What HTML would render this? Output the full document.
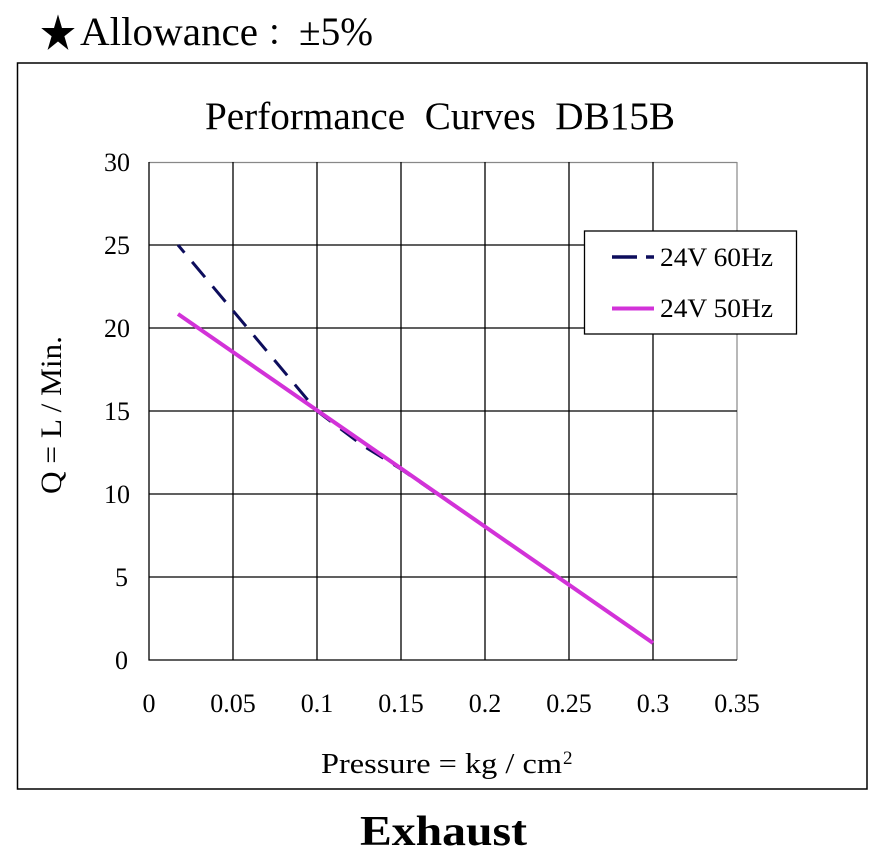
<!DOCTYPE html>
<html><head><meta charset="utf-8"><style>
html,body{margin:0;padding:0;background:#fff;}
svg{display:block;}
text{font-family:"Liberation Serif","Noto Serif CJK SC",serif;fill:#000;}
</style></head><body>
<svg width="888" height="862" viewBox="0 0 888 862" xmlns="http://www.w3.org/2000/svg">
<rect x="0" y="0" width="888" height="862" fill="#fff"/>
<!-- Allowance header -->
<text x="40" y="47" font-size="40" textLength="36" lengthAdjust="spacingAndGlyphs" font-family="DejaVu Sans, sans-serif">★</text>
<text x="80" y="45" font-size="40" textLength="178" lengthAdjust="spacingAndGlyphs">Allowance</text>
<text x="266" y="45" font-size="36" font-family="Noto Sans CJK SC, sans-serif">：</text>
<text x="299" y="45" font-size="40" textLength="74" lengthAdjust="spacingAndGlyphs">±5%</text>
<!-- outer box -->
<rect x="17.5" y="63" width="849.5" height="726" fill="none" stroke="#000" stroke-width="1.5"/>
<!-- title -->
<text x="205" y="129" font-size="39" textLength="470" lengthAdjust="spacingAndGlyphs" xml:space="preserve">Performance  Curves  DB15B</text>
<!-- plot frame top/right gray -->
<line x1="149" y1="162.5" x2="737" y2="162.5" stroke="#888" stroke-width="1.2"/>
<line x1="737" y1="162" x2="737" y2="660" stroke="#888" stroke-width="1.2"/>
<!-- grid -->
<g stroke="#000" stroke-width="1.3">
<line x1="149" y1="245" x2="737" y2="245"/>
<line x1="149" y1="328" x2="737" y2="328"/>
<line x1="149" y1="411" x2="737" y2="411"/>
<line x1="149" y1="494" x2="737" y2="494"/>
<line x1="149" y1="577" x2="737" y2="577"/>
<line x1="233" y1="162" x2="233" y2="660"/>
<line x1="317" y1="162" x2="317" y2="660"/>
<line x1="401" y1="162" x2="401" y2="660"/>
<line x1="485" y1="162" x2="485" y2="660"/>
<line x1="569" y1="162" x2="569" y2="660"/>
<line x1="653" y1="162" x2="653" y2="660"/>
<line x1="149" y1="162" x2="149" y2="660.5"/>
<line x1="148.5" y1="660" x2="737" y2="660"/>
</g>
<!-- y tick labels -->
<g font-size="26" text-anchor="end">
<text x="130" y="171">30</text>
<text x="130" y="254">25</text>
<text x="130" y="337">20</text>
<text x="130" y="420">15</text>
<text x="130" y="503">10</text>
<text x="128" y="586">5</text>
<text x="128" y="669">0</text>
</g>
<!-- x tick labels -->
<g font-size="26" text-anchor="middle">
<text x="149" y="712">0</text>
<text x="233" y="712">0.05</text>
<text x="317" y="712">0.1</text>
<text x="401" y="712">0.15</text>
<text x="485" y="712">0.2</text>
<text x="569" y="712">0.25</text>
<text x="653" y="712">0.3</text>
<text x="737" y="712">0.35</text>
</g>
<!-- axis titles -->
<text x="321" y="773" font-size="28" textLength="241" lengthAdjust="spacingAndGlyphs">Pressure = kg / cm</text>
<text x="563" y="764" font-size="19">2</text>
<text transform="translate(61,494) rotate(-90)" font-size="30" textLength="158" lengthAdjust="spacingAndGlyphs">Q = L / Min.</text>
<!-- series 60Hz dashed -->
<polyline points="178,245 317,411 362,445 400,468.5 470,516.5" fill="none" stroke="#0d0d5c" stroke-width="3" stroke-dasharray="20,12" stroke-dashoffset="10"/>
<!-- series 50Hz -->
<line x1="178" y1="314" x2="653" y2="643" stroke="#d232d8" stroke-width="4"/>
<!-- legend -->
<rect x="584.5" y="231" width="212" height="103" fill="#fff" stroke="#000" stroke-width="1.3"/>
<line x1="612" y1="257" x2="637" y2="257" stroke="#0d0d5c" stroke-width="3.5"/>
<line x1="646" y1="257" x2="654" y2="257" stroke="#0d0d5c" stroke-width="3.5"/>
<line x1="612" y1="308.5" x2="654" y2="308.5" stroke="#d232d8" stroke-width="4"/>
<text x="660" y="266" font-size="26" textLength="113" lengthAdjust="spacingAndGlyphs">24V 60Hz</text>
<text x="660" y="317" font-size="26" textLength="113" lengthAdjust="spacingAndGlyphs">24V 50Hz</text>
<!-- bottom label -->
<text x="360" y="845" font-size="42" font-weight="bold" textLength="167" lengthAdjust="spacingAndGlyphs">Exhaust</text>
</svg>
</body></html>
